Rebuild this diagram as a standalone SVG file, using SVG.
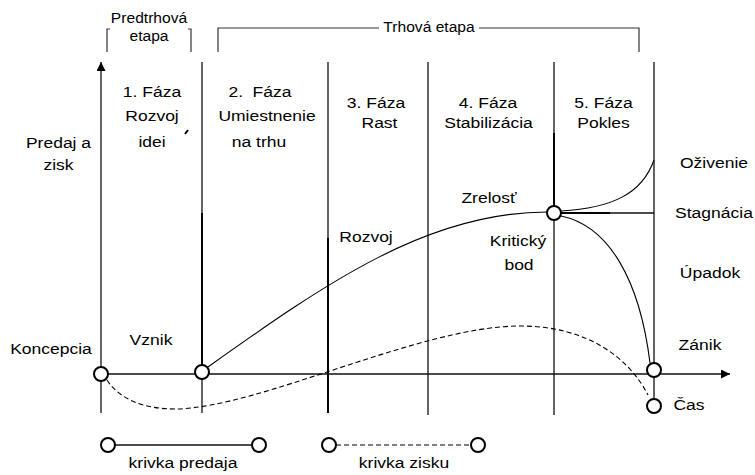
<svg xmlns="http://www.w3.org/2000/svg" width="755" height="475" viewBox="0 0 755 475">
<style>
text{font-family:"Liberation Sans",Arial,sans-serif;fill:#000;text-anchor:middle}
.t{font-size:15.5px}
.s{font-size:13.8px}
.ln{stroke:#111;stroke-width:1.3;fill:none}
.thk{stroke:#000;stroke-width:1.9;fill:none}
.crv{stroke:#000;stroke-width:1.1;fill:none}
.dash{stroke:#000;stroke-width:1.1;fill:none;stroke-dasharray:5 3}
.node{fill:#fff;stroke:#000;stroke-width:2}
.br{stroke:#333;stroke-width:1.2;fill:none}
</style>
<defs>
<marker id="arr" viewBox="0 0 10 10" refX="10" refY="5" markerWidth="10" markerHeight="9" markerUnits="userSpaceOnUse" orient="auto">
<path d="M0,0 L10,5 L0,10 Z" fill="#000"/>
</marker>
</defs>
<rect width="755" height="475" fill="#fff"/>

<g id="brackets">
<path class="br" d="M107,52 V29 H110"/>
<path class="br" d="M191,52 V29 H188"/>
<path class="br" d="M218,52 V28 H379 M479,28 H639 V52"/>
<text class="s" transform="translate(149,23) scale(1.13,1)">Predtrhová</text>
<text class="s" transform="translate(149,41) scale(1.13,1)">etapa</text>
<text class="s" transform="translate(429,32) scale(1.13,1)">Trhová etapa</text>
</g>

<g id="grid">
<path class="ln" d="M202,62 V413 M328,62 V413 M428,62 V415 M554,62 V415 M654,62 V399"/>
<path class="thk" d="M202,213 V366 M328,238 V413 M554,133 V206"/>
<path class="ln" d="M554,213 H654"/>
<path class="thk" d="M561,213 H610"/>
<path d="M185,134 L188,130" stroke="#000" stroke-width="2"/>
</g>

<g id="axes">
<line class="ln" x1="101" y1="413" x2="101" y2="62" marker-end="url(#arr)"/>
<line class="ln" x1="101" y1="374" x2="730" y2="374" marker-end="url(#arr)"/>
</g>

<g id="connectors">
<path class="crv" d="M208,367 C330,280 430,212 547,212"/>
<path class="crv" d="M561,211 C612,208 642,194 654,160"/>
<path class="crv" d="M561,216 C610,226 640,282 650,363"/>
<path class="dash" d="M107,380 C120,400 145,409 175,409 C260,408 420,326 520,326 C590,326 630,360 648,395"/>
</g>

<g id="phase-labels">
<text class="t" transform="translate(152,97) scale(1.13,1)">1. Fáza</text>
<text class="t" transform="translate(152,121) scale(1.13,1)">Rozvoj</text>
<text class="t" transform="translate(152,147) scale(1.13,1)">idei</text>
<text class="t" style="word-spacing:4px" transform="translate(260,97) scale(1.13,1)">2. Fáza</text>
<text class="t" transform="translate(267,121) scale(1.13,1)">Umiestnenie</text>
<text class="t" transform="translate(259,147) scale(1.13,1)">na trhu</text>
<text class="t" transform="translate(376,108) scale(1.13,1)">3. Fáza</text>
<text class="t" transform="translate(379.5,128) scale(1.13,1)">Rast</text>
<text class="t" transform="translate(488,108) scale(1.13,1)">4. Fáza</text>
<text class="t" transform="translate(488.5,128) scale(1.13,1)">Stabilizácia</text>
<text class="t" transform="translate(603.5,108) scale(1.13,1)">5. Fáza</text>
<text class="t" transform="translate(603.5,128) scale(1.13,1)">Pokles</text>
</g>

<g id="axis-labels">
<text class="t" transform="translate(58.5,148) scale(1.13,1)">Predaj a</text>
<text class="t" transform="translate(58.5,170) scale(1.13,1)">zisk</text>
</g>

<g id="curve-labels">
<text class="t" transform="translate(714,168) scale(1.13,1)">Oživenie</text>
<text class="t" transform="translate(714,218) scale(1.13,1)">Stagnácia</text>
<text class="t" transform="translate(710,278) scale(1.13,1)">Úpadok</text>
<text class="t" transform="translate(489,203) scale(1.13,1)">Zrelosť</text>
<text class="t" transform="translate(518,246) scale(1.13,1)">Kritický</text>
<text class="t" transform="translate(519,270) scale(1.13,1)">bod</text>
<text class="t" transform="translate(366,242) scale(1.13,1)">Rozvoj</text>
<text class="t" transform="translate(151,345) scale(1.13,1)">Vznik</text>
<text class="t" transform="translate(51,354) scale(1.13,1)">Koncepcia</text>
<text class="t" transform="translate(700,350) scale(1.13,1)">Zánik</text>
<text class="t" transform="translate(689,410) scale(1.13,1)">Čas</text>
</g>

<g id="node-koncepcia"><circle class="node" cx="101" cy="374" r="7"/></g>
<g id="node-vznik"><circle class="node" cx="202" cy="372" r="7"/></g>
<g id="node-kriticky-bod"><circle class="node" cx="554" cy="213" r="7"/></g>
<g id="node-zanik"><circle class="node" cx="654" cy="370" r="7"/></g>
<g id="node-cas"><circle class="node" cx="654" cy="406" r="7"/></g>

<g id="legend">
<line class="ln" x1="115" y1="445" x2="252" y2="445"/>
<line class="dash" x1="336" y1="445" x2="471" y2="445"/>
<circle class="node" cx="108" cy="445" r="7"/>
<circle class="node" cx="259" cy="445" r="7"/>
<circle class="node" cx="329" cy="445" r="7"/>
<circle class="node" cx="478" cy="445" r="7"/>
<text class="t" transform="translate(183,468) scale(1.13,1)">krivka predaja</text>
<text class="t" transform="translate(404,468) scale(1.13,1)">krivka zisku</text>
</g>
</svg>
